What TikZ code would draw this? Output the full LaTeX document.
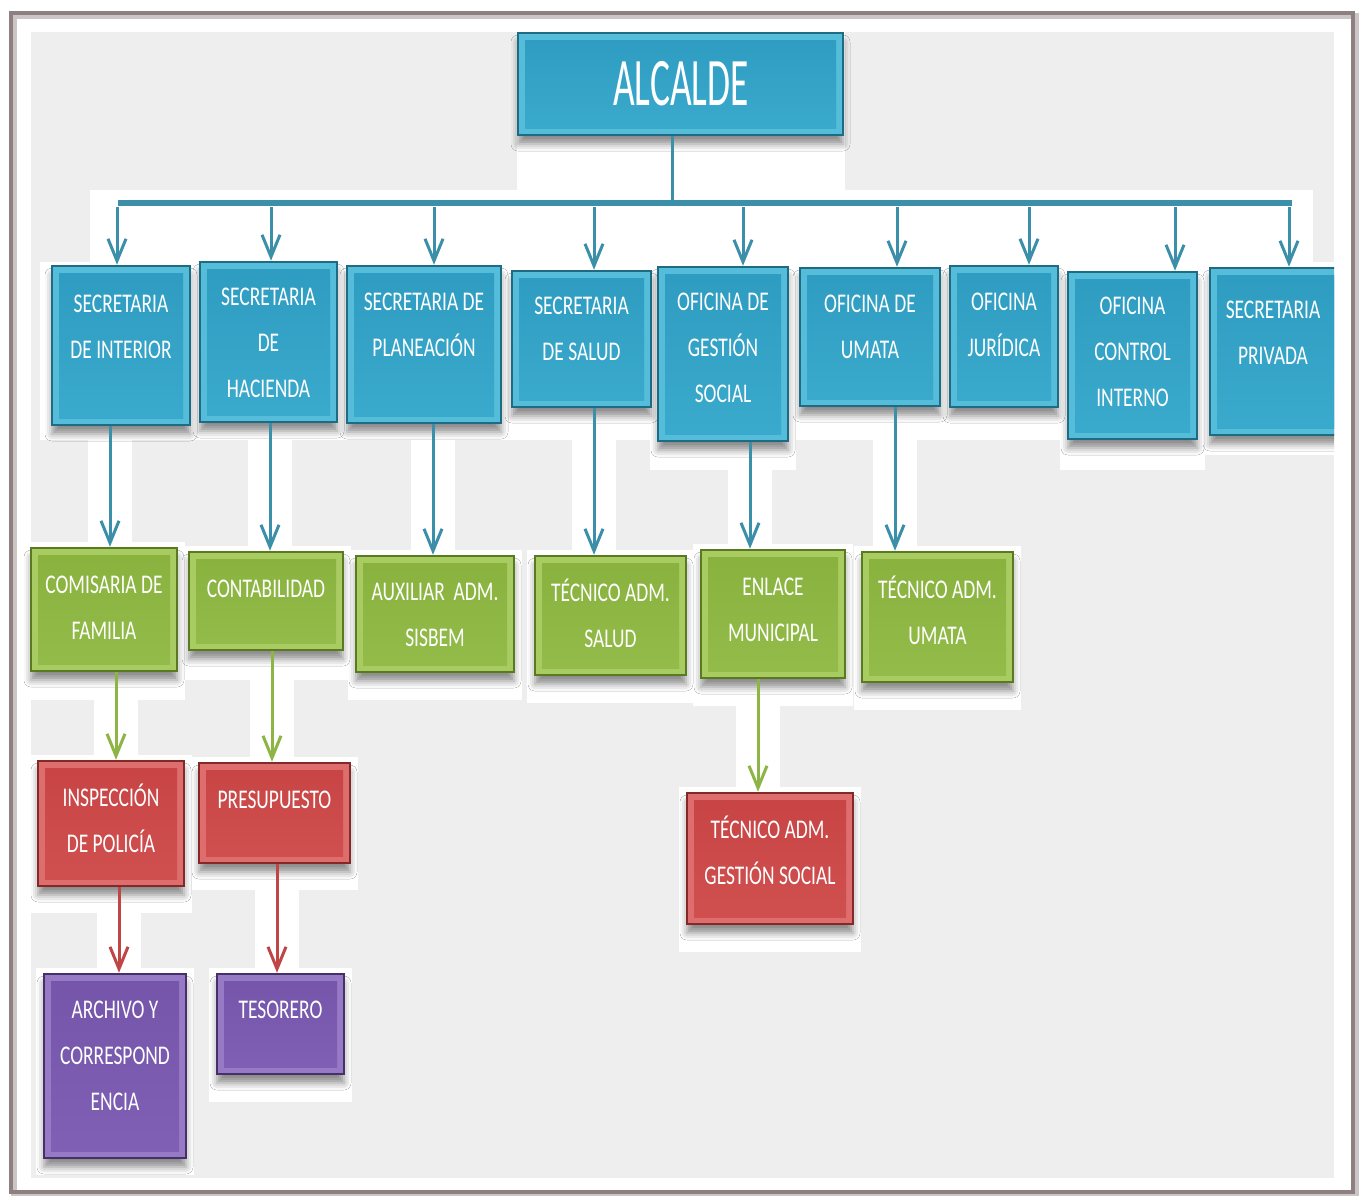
\documentclass[tikz,border=0pt]{standalone}
\usepackage{fontspec}
\usetikzlibrary{arrows.meta,shadows.blur,calc}
\newfontfamily\boxfont[FakeStretch=0.72]{Carlito}
\newfontfamily\bigfont[FakeStretch=0.55]{Carlito}
\definecolor{frameC}{HTML}{8E7F80}
\definecolor{panelC}{HTML}{EEEEEE}
\definecolor{tealB}{HTML}{1E6C84}
\definecolor{tealL}{HTML}{55BCDA}
\definecolor{tealM}{HTML}{2E9CC0}
\definecolor{tealM2}{HTML}{3AAACD}
\definecolor{tealA}{HTML}{3C8FA8}
\definecolor{greenB}{HTML}{5A7A22}
\definecolor{greenL}{HTML}{A9CC62}
\definecolor{greenM}{HTML}{88B13E}
\definecolor{greenM2}{HTML}{94BC4A}
\definecolor{greenA}{HTML}{8DB545}
\definecolor{redB}{HTML}{842828}
\definecolor{redL}{HTML}{DE6E6E}
\definecolor{redM}{HTML}{C84444}
\definecolor{redM2}{HTML}{D05050}
\definecolor{redA}{HTML}{C04545}
\definecolor{purB}{HTML}{45306A}
\definecolor{purL}{HTML}{977AC6}
\definecolor{purM}{HTML}{7555AA}
\definecolor{purM2}{HTML}{7F60B4}
\tikzset{
  orgbase/.style={draw, line width=2.5pt, inner sep=0pt,
    blur shadow={shadow xshift=0pt, shadow yshift=-9pt, shadow blur radius=7pt, shadow opacity=45}},
  bevel/.style n args={2}{path picture={\shade[top color=#1, bottom color=#2]
      ([shift={(7pt,-7pt)}]path picture bounding box.north west) rectangle
      ([shift={(-7pt,7pt)}]path picture bounding box.south east);}},
  tealbox/.style={orgbase, draw=tealB, fill=tealL, bevel={tealM}{tealM2}},
  greenbox/.style={orgbase, draw=greenB, fill=greenL, bevel={greenM}{greenM2}},
  redbox/.style={orgbase, draw=redB, fill=redL, bevel={redM}{redM2}},
  purbox/.style={orgbase, draw=purB, fill=purL, bevel={purM}{purM2}},
  txt/.style={font=\boxfont\fontsize{27}{46}\selectfont, text=white, align=center, inner sep=0pt, anchor=north},
  tline/.style={draw=tealA, line width=3pt},
  busline/.style={draw=tealA, line width=6pt},
  tarr/.style={draw=tealA, line width=3pt, -{Straight Barb[length=22pt,width=18pt]}},
  garr/.style={draw=greenA, line width=3pt, -{Straight Barb[length=22pt,width=18pt]}},
  rarr/.style={draw=redA, line width=3pt, -{Straight Barb[length=22pt,width=18pt]}},
}
\newcommand\orgbox[8]{%
  \node[#6, minimum width={(#4-#2)*1pt}, minimum height={(#5-#3)*1pt}] (#1) at ({(#2+#4)/2},{(#3+#5)/2}) {};
  \node[txt] (#1-t) at ([yshift=-#7pt]#1.north) {#8};
}
\newcommand\wpatch[4]{\fill[white] (#1,#2) rectangle (#3,#4);}
\newcommand\wstrip[3]{\fill[white] ({#1-22},#2) rectangle ({#1+22},#3);}
\begin{document}
\begin{tikzpicture}[x=1pt,y=-1pt]
\useasboundingbox (0,0) rectangle (1362,1195);
% frame
\fill[white] (0,0) rectangle (1362,1195);
\draw[frameC!45, line width=6pt] (14,16) rectangle (1356,1196);
\draw[frameC, line width=4pt] (11,13) rectangle (1353,1192);
\fill[panelC] (31,32) rectangle (1334,1178);
% white patches
\wpatch{517}{32}{845}{192}
\wpatch{90}{190}{1313}{268}
\wpatch{40}{262}{1334}{440}
\wpatch{650}{262}{796}{470}
\wpatch{1060}{262}{1205}{470}
\wpatch{1202}{262}{1334}{455}
\wpatch{31}{542}{185}{700}
\wpatch{181}{546}{351}{680}
\wpatch{348}{550}{522}{700}
\wpatch{527}{550}{694}{703}
\wpatch{693}{544}{853}{706}
\wpatch{854}{546}{1021}{710}
\wpatch{31}{755}{192}{913}
\wpatch{191}{757}{358}{890}
\wpatch{679}{787}{861}{952}
\wpatch{36}{968}{194}{1175}
\wpatch{209}{968}{352}{1102}
\wstrip{110}{440}{548}
\wstrip{270}{440}{552}
\wstrip{433}{440}{556}
\wstrip{594}{440}{556}
\wstrip{750}{470}{550}
\wstrip{895}{440}{552}
\wstrip{116}{700}{761}
\wstrip{272}{680}{763}
\wstrip{758}{706}{793}
\wstrip{119}{913}{974}
\wstrip{277}{890}{974}
% boxes
\node[tealbox, minimum width=325pt, minimum height=102pt] (alc) at (680.5,84) {};
\node[font=\bigfont\fontsize{68}{68}\selectfont, text=white, inner sep=0pt] (alc-t) at (681,84) {ALCALDE};
\orgbox{int}{52}{266}{190}{425}{tealbox}{30.5}{SECRETARIA\\DE INTERIOR}
\orgbox{hac}{200}{262}{337}{422}{tealbox}{27.5}{SECRETARIA\\DE\\HACIENDA}
\orgbox{pla}{347}{266}{501}{423}{tealbox}{28.5}{SECRETARIA DE\\PLANEACIÓN}
\orgbox{sal}{512}{271}{651}{407}{tealbox}{27.5}{SECRETARIA\\DE SALUD}
\orgbox{ges}{658}{267}{788}{441}{tealbox}{27.5}{OFICINA DE\\GESTIÓN\\SOCIAL}
\orgbox{uma}{800}{268}{940}{406}{tealbox}{28.5}{OFICINA DE\\UMATA}
\orgbox{jur}{950}{266}{1058}{407}{tealbox}{28.5}{OFICINA\\JURÍDICA}
\orgbox{con}{1068}{272}{1197}{439}{tealbox}{26.5}{OFICINA\\CONTROL\\INTERNO}
\begin{scope}
\clip (31,32) rectangle (1334,1178);
\orgbox{pri}{1210}{268}{1346}{435}{tealbox}{34.5}{\hspace*{-10pt}SECRETARIA\\\hspace*{-10pt}PRIVADA}
\end{scope}
\orgbox{com}{31}{548}{177}{671}{greenbox}{29.5}{COMISARIA DE\\FAMILIA}
\orgbox{cont}{189}{552}{343}{650}{greenbox}{29.5}{CONTABILIDAD}
\orgbox{aux}{356}{556}{514}{672}{greenbox}{28.5}{AUXILIAR~ ADM.\\SISBEM}
\orgbox{tsa}{535}{556}{686}{675}{greenbox}{23.5}{TÉCNICO ADM.\\SALUD}
\orgbox{enl}{701}{550}{845}{678}{greenbox}{29.5}{ENLACE\\MUNICIPAL}
\orgbox{tum}{862}{552}{1013}{682}{greenbox}{24.5}{TÉCNICO ADM.\\UMATA}
\orgbox{ins}{38}{761}{184}{886}{redbox}{23.5}{INSPECCIÓN\\DE POLICÍA}
\orgbox{pre}{199}{763}{350}{863}{redbox}{29.5}{PRESUPUESTO}
\orgbox{tgs}{687}{793}{853}{924}{redbox}{23.5}{TÉCNICO ADM.\\GESTIÓN SOCIAL}
\orgbox{arc}{44}{974}{186}{1158}{purbox}{28.5}{ARCHIVO Y\\CORRESPOND\\ENCIA}
\orgbox{tes}{217}{974}{344}{1074}{purbox}{28.5}{TESORERO}
% bus
\coordinate (busL) at (118,203);
\coordinate (busR) at (1292,203);
\draw[busline] (busL) -- (busR);
\draw[tline] ([xshift=-8.5pt]alc.south) -- ([xshift=-8.5pt]alc.south |- busL);
\foreach \n/\dx in {int/-4, hac/2.5, pla/10, sal/12.5, ges/20, uma/27, jur/25, con/42.5, pri/11}
  \draw[tarr] ([xshift=\dx pt]\n.north |- busL) ++(0,4) -- ([xshift=\dx pt]\n.north);
% level 2
\draw[tarr] ([xshift=-11pt]int.south) -- ([xshift=6pt]com.north);
\draw[tarr] ([xshift=1.5pt]hac.south) -- ([xshift=4pt]cont.north);
\draw[tarr] ([xshift=9pt]pla.south) -- ([xshift=-2pt]aux.north);
\draw[tarr] ([xshift=12.5pt]sal.south) -- ([xshift=-16.5pt]tsa.north);
\draw[tarr] ([xshift=27pt]ges.south) -- ([xshift=-23pt]enl.north);
\draw[tarr] ([xshift=25pt]uma.south) -- ([xshift=-42.5pt]tum.north);
% level 3
\draw[garr] ([xshift=12pt]com.south) -- ([xshift=5pt]ins.north);
\draw[garr] ([xshift=6pt]cont.south) -- ([xshift=-2.5pt]pre.north);
\draw[garr] ([xshift=-15pt]enl.south) -- ([xshift=-12pt]tgs.north);
% level 4
\draw[rarr] ([xshift=8pt]ins.south) -- ([xshift=4pt]arc.north);
\draw[rarr] ([xshift=2.5pt]pre.south) -- ([xshift=-3.5pt]tes.north);
\end{tikzpicture}
\end{document}
